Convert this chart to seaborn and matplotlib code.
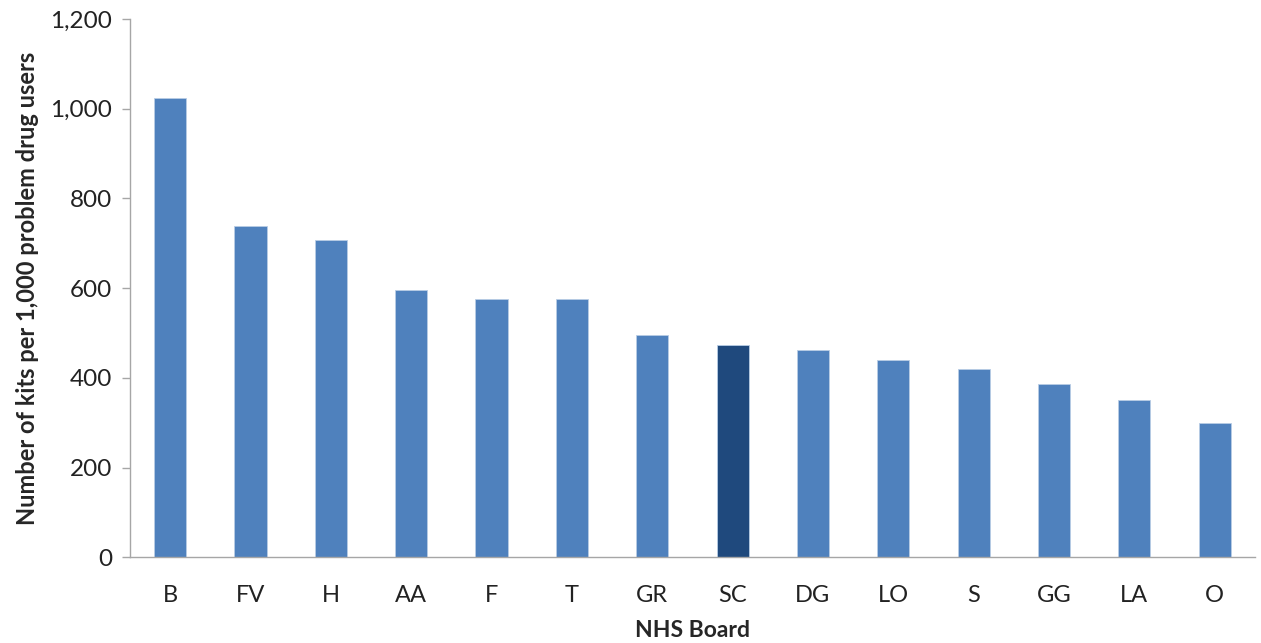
import matplotlib.pyplot as plt
import matplotlib.ticker as mticker
import numpy as np
import pandas as pd
import seaborn as sns

boards = ["B", "FV", "H", "AA", "F", "T", "GR", "SC", "DG", "LO", "S", "GG", "LA", "O"]
kits = [1023, 738, 707, 596, 576, 576, 496, 473, 462, 439, 419, 387, 351, 299]
highlight = "SC"

BLUE = "#4F81BD"
DARK = "#1F497D"
AXIS_GREY = "#A6A6A6"

sns.set_theme(style="white")
plt.rcParams["font.family"] = ["Lato", "DejaVu Sans"]

df = pd.DataFrame({"board": boards, "kits": kits})
palette = {b: (DARK if b == highlight else BLUE) for b in boards}

fig = plt.figure(figsize=(12.61, 6.43), dpi=100)
ax = fig.add_axes([0.1031, 0.133, 0.892, 0.8375])

sns.barplot(data=df, x="board", y="kits", hue="board", palette=palette,
            order=boards, width=0.4, legend=False, saturation=1,
            edgecolor="#B9CDE5", linewidth=0.6, ax=ax)

ax.set_ylim(0, 1200)
ax.set_xlim(-0.5, len(boards) - 0.5)
ax.yaxis.set_major_locator(mticker.MultipleLocator(200))
ax.yaxis.set_major_formatter(mticker.FuncFormatter(lambda v, p: f"{int(v):,}"))

# category boundaries carry the ticks, labels sit centred under bars
ax.set_xticks(np.arange(len(boards)))
ax.set_xticks(np.arange(-0.5, len(boards) - 0.4, 1), minor=True)
ax.tick_params(axis="x", which="major", length=0, pad=20, labelsize=17, colors="#222222")
ax.tick_params(axis="x", which="minor", length=8, width=1, color=AXIS_GREY, direction="out")
ax.tick_params(axis="y", length=6, width=1, color=AXIS_GREY, direction="out",
               labelsize=17.5, pad=7, labelcolor="#222222", left=True)

for side in ["top", "right"]:
    ax.spines[side].set_visible(False)
for side in ["left", "bottom"]:
    ax.spines[side].set_color(AXIS_GREY)
    ax.spines[side].set_linewidth(1)

ax.set_xlabel("NHS Board", fontsize=16.5, fontweight="bold", labelpad=10)
ax.set_ylabel("Number of kits per 1,000 problem drug users", fontsize=17,
              fontweight="bold", labelpad=8)

fig.savefig("out.png", dpi=100)
